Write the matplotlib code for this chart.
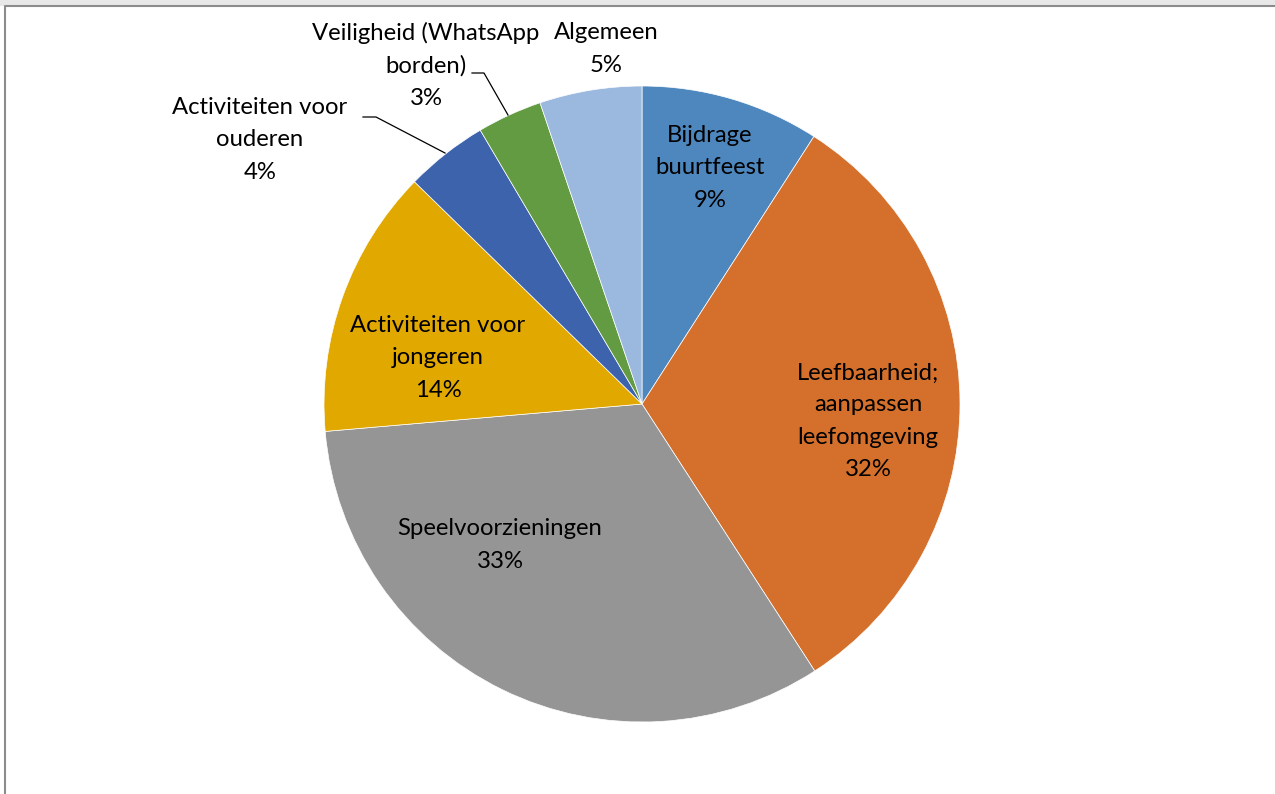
import matplotlib
matplotlib.use("Agg")
import matplotlib.pyplot as plt
from matplotlib.patches import Rectangle
from matplotlib.lines import Line2D

categories = ["Bijdrage\nbuurtfeest", "Leefbaarheid;\naanpassen\nleefomgeving",
              "Speelvoorzieningen", "Activiteiten voor\njongeren",
              "Activiteiten voor\nouderen", "Veiligheid (WhatsApp\nborden)",
              "Algemeen"]
shares = [9.1, 31.8, 32.8, 13.7, 4.2, 3.3, 5.2]
colors = ["#4E87BE", "#D4702C", "#959595", "#E1A800", "#3D63AC", "#629B41", "#9BB8DF"]

# label centres in pixel coords (x, y from top)
label_pos = [(710, 168), (868, 421), (500, 545), (438, 358),
             (260, 140), (426, 65), (606, 49)]

W, H = 1275, 794
fig = plt.figure(figsize=(W / 100, H / 100), dpi=100)
ax = fig.add_axes([0, 0, 1, 1])

cx, cy, r = 642, 404, 318
ax.pie(shares, colors=colors, startangle=90, counterclock=False,
       center=(cx, H - cy), radius=r, frame=True,
       wedgeprops=dict(edgecolor="white", linewidth=0.5))
ax.set_xlim(0, W)
ax.set_ylim(0, H)
ax.set_aspect("equal")
ax.axis("off")

tot = sum(shares)
for name, v, (x, y) in zip(categories, shares, label_pos):
    ax.text(x, H - y, f"{name}\n{round(v / tot * 100)}%", ha="center", va="center",
            fontsize=17.2, family="Lato", linespacing=1.65, color="#000000")

# leader lines for the small slices
ax.add_line(Line2D([363, 376, 445], [H - 117, H - 117, H - 153], color="black", lw=0.9))
ax.add_line(Line2D([472, 484, 508], [H - 73, H - 73, H - 115], color="black", lw=0.9))

# frame of the original screenshot
fig.patches.append(Rectangle((0, 1 - 6 / H), 1, 6 / H, transform=fig.transFigure,
                             facecolor="#e8e8e8", edgecolor="none"))
fig.lines.append(Line2D([5 / W, 5 / W, 1], [0, 1 - 6 / H, 1 - 6 / H],
                        transform=fig.transFigure, color="#8c8c8c", lw=1.5))

fig.savefig("out.png", dpi=100, facecolor="white")
